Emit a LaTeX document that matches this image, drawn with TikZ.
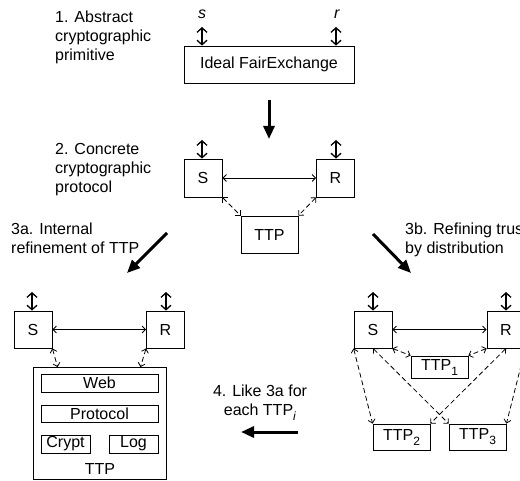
\documentclass[tikz,border=0pt]{standalone}
\usepackage{fontspec}
\setmainfont{Liberation Sans}
\usetikzlibrary{arrows.meta}
\newcommand{\lowsub}[1]{\raisebox{-5pt}{\fontsize{12}{12}\selectfont #1}}
\begin{document}
\begin{tikzpicture}[x=1pt,y=-1pt,
  every node/.style={font=\fontsize{16}{19}\selectfont},
  box/.style={draw, line width=0.8pt, inner sep=0pt},
  lbl/.style={inner sep=0pt, align=left, anchor=north west},
  dbl/.style={line width=1.3pt, {Straight Barb[length=4.5pt,width=10pt]}-{Straight Barb[length=4.5pt,width=10pt]}},
  link/.style={line width=0.8pt, {Straight Barb[length=3.5pt,width=7pt]}-{Straight Barb[length=3.5pt,width=7pt]}},
  dlink/.style={line width=0.8pt, dash pattern=on 5pt off 3pt, {Straight Barb[length=3.5pt,width=7pt]}-{Straight Barb[length=3.5pt,width=7pt]}},
  big/.style={line width=3pt, -{Triangle[length=13pt,width=11pt]}}]
\useasboundingbox (0,0) rectangle (520,481);
\clip (0,0) rectangle (520,481);
\fill[white] (0,0) rectangle (520,481);

% ---------- 1. abstract primitive
\node[lbl] (t1) at (55,11) {1. Abstract\\cryptographic\\primitive};
\node[box, minimum width=170pt, minimum height=37pt] (ife) at (269,64.5) {Ideal FairExchange};
\node[inner sep=0pt] (s1) at (202,14) {\textit{s}};
\node[inner sep=0pt] (r1) at (337,14) {\textit{r}};
\coordinate (s1a) at (202,27);
\coordinate (r1a) at (336,27);
\draw[dbl] (s1a) -- (s1a |- ife.north);
\draw[dbl] (r1a) -- (r1a |- ife.north);

\coordinate (a1s) at (269,100);
\coordinate (a1e) at (269,139);
\draw[big] (a1s) -- (a1e);

% ---------- 2. concrete protocol
\node[lbl] (t2) at (55,143) {2. Concrete\\cryptographic\\protocol};
\node[box, minimum width=38pt, minimum height=38pt] (S2) at (203,178) {S};
\node[box, minimum width=38pt, minimum height=38pt] (R2) at (335.5,178) {R};
\node[box, minimum width=57pt, minimum height=37pt] (T2) at (269.5,234.5) {TTP};
\coordinate (s2a) at (202,140);
\coordinate (r2a) at (336,140);
\draw[dbl] (s2a) -- (s2a |- S2.north);
\draw[dbl] (r2a) -- (r2a |- R2.north);
\draw[link] (S2.east) -- (R2.west);
\draw[dlink] (S2.south east) -- (T2.north west);
\draw[dlink] (R2.south west) -- (T2.north east);

% ---------- 3a
\node[lbl] (t3a) at (11,223) {3a. Internal\\refinement of TTP};
\coordinate (a3as) at (167,233);
\coordinate (a3ae) at (127,273);
\draw[big] (a3as) -- (a3ae);

\node[box, minimum width=38pt, minimum height=37pt] (S3) at (33,329.5) {S};
\node[box, minimum width=38pt, minimum height=37pt] (R3) at (165.5,329.5) {R};
\coordinate (s3a) at (32,292);
\coordinate (r3a) at (166,292);
\draw[dbl] (s3a) -- (s3a |- S3.north);
\draw[dbl] (r3a) -- (r3a |- R3.north);
\draw[link] (S3.east) -- (R3.west);
\node[box, minimum width=133pt, minimum height=112pt] (TB) at (99.5,423.5) {};
\node[box, minimum width=117pt, minimum height=18pt] (web) at (99.5,383) {Web};
\node[box, minimum width=117pt, minimum height=17pt] (proto) at (99.5,413.5) {Protocol};
\node[box, minimum width=49pt, minimum height=18pt] (crypt) at (65.5,444) {Crypt};
\node[box, minimum width=49pt, minimum height=18pt] (log) at (133.5,444) {Log};
\node[inner sep=0pt] (ttpl) at (100,469) {TTP};
\draw[dlink] (S3.south east) -- ([xshift=25pt]TB.north west);
\draw[dlink] (R3.south west) -- ([xshift=-26pt]TB.north east);

% ---------- 3b
\node[lbl] (t3b) at (405,223) {3b. Refining trust\\by distribution};
\coordinate (a3bs) at (373,234);
\coordinate (a3be) at (411,273);
\draw[big] (a3bs) -- (a3be);

\node[box, minimum width=38pt, minimum height=37pt] (S4) at (373,329.5) {S};
\node[box, minimum width=38pt, minimum height=37pt] (R4) at (506,329.5) {R};
\coordinate (s4a) at (373,292);
\coordinate (r4a) at (506,292);
\draw[dbl] (s4a) -- (s4a |- S4.north);
\draw[dbl] (r4a) -- (r4a |- R4.north);
\draw[link] (S4.east) -- (R4.west);
\node[box, minimum width=57pt, minimum height=22pt] (P1) at (439.5,367) {TTP\lowsub{1}};
\node[box, minimum width=57pt, minimum height=26pt] (P2) at (401.5,437) {TTP\lowsub{2}};
\node[box, minimum width=57pt, minimum height=26pt] (P3) at (477.5,437) {TTP\lowsub{3}};
\draw[dlink] (S4.south east) -- (P1.north west);
\draw[dlink] (R4.south west) -- (P1.north east);
\draw[dlink] (S4.south west) -- (P2.north west);
\draw[dlink] (S4.south) -- (P3.north west);
\draw[dlink] (R4.south) -- (P2.north east);
\draw[dlink] (R4.south east) -- (P3.north east);

% ---------- 4
\node[inner sep=0pt, align=center, anchor=north] (t4) at (260,385) {4. Like 3a for\\each TTP\lowsub{\textit{i}}};
\coordinate (a4s) at (298,432);
\coordinate (a4e) at (241,432);
\draw[big] (a4s) -- (a4e);
\end{tikzpicture}
\end{document}
